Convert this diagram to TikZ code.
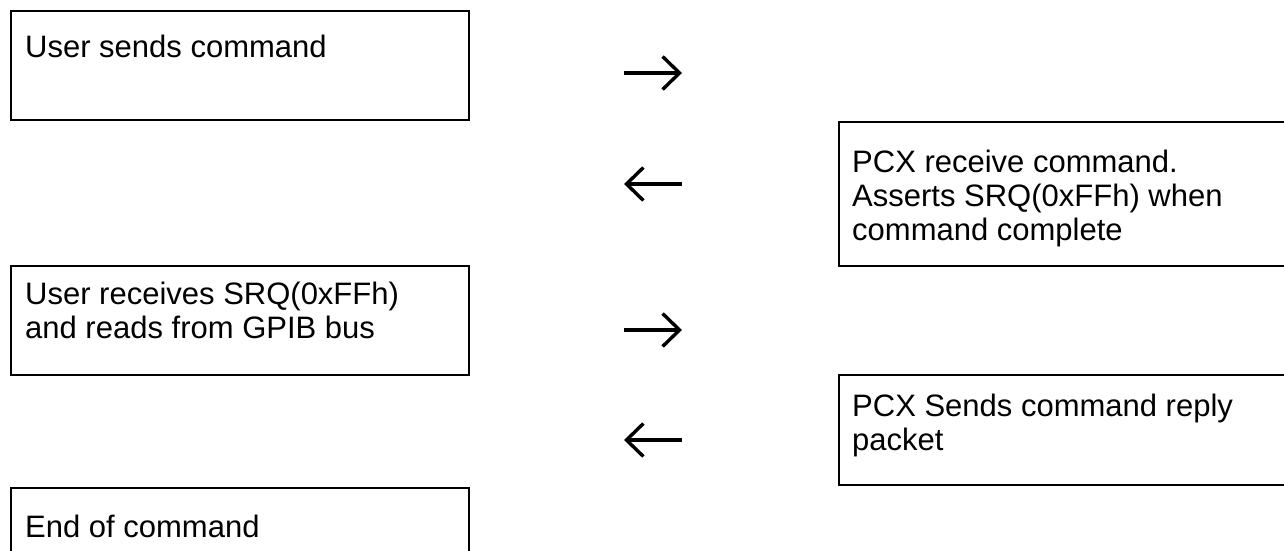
\documentclass[tikz,border=0pt]{standalone}
\usepackage{fontspec}
\setmainfont{Liberation Sans}
\usepackage{tikz}
\usetikzlibrary{positioning,arrows.meta}

\begin{document}
\begin{tikzpicture}[x=1pt,y=-1pt,
		box/.style={draw=black,line width=2pt,anchor=north west,inner sep=0pt},
		txt/.style={anchor=base west,inner sep=0pt,align=left,
			font=\fontsize{31}{34}\selectfont},
		flow/.style={line width=3.4pt,
			-{Straight Barb[length=17pt,width=33pt,line width=3.4pt]}}
	]

	% Page
	\clip (0,0) rectangle (1284,551);

	% User side
	\node[box,minimum width=458pt,minimum height=109pt] (user1) at (10,10) {};
	\node[box,minimum width=458pt,minimum height=109pt] (user2) at (10,265) {};
	\node[box,minimum width=458pt,minimum height=120pt] (user3) at (10,487) {};

	% (base = last line)
	\node[txt] (user1t) at (25,57) {User sends command};
	\node[txt] (user2t) at (25,338) {User receives SRQ(0xFFh)\\and reads from GPIB bus};
	\node[txt] (user3t) at (25,537) {End of command};

	% PCX side
	\node[box,minimum width=460pt,minimum height=144pt] (pcx1) at (838,121) {};
	\node[box,minimum width=460pt,minimum height=110pt] (pcx2) at (838,374) {};

	\node[txt] (pcx1t) at (852,240) {PCX receive command.\\Asserts SRQ(0xFFh) when\\command complete};
	\node[txt] (pcx2t) at (852,450) {PCX Sends command reply\\packet};

	% Arrows between them
	\foreach \y/\a/\b in {73/624/682, 184/682/624, 330/624/682, 440/682/624} {
		\coordinate (from\y) at (\a,\y);
		\coordinate (to\y) at (\b,\y);
		\draw[flow] (from\y) -- (to\y);
	}

\end{tikzpicture}
\end{document}
